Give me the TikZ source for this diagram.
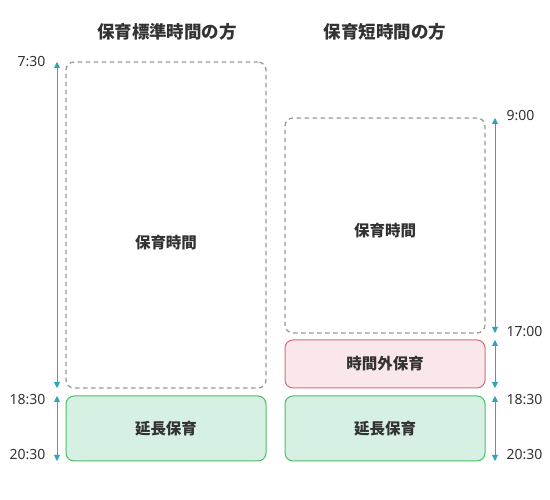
\documentclass[tikz,border=0pt]{standalone}
\usepackage{fontspec}
\usepackage{tikz}
\usepackage{xcolor}
\usetikzlibrary{arrows.meta, calc}
\newfontfamily\jpfont{Noto Sans CJK JP}
\newfontfamily\numfont{Noto Sans}
\definecolor{cTeal}     {HTML}{2CA6B8}
\definecolor{cGreenLine}{HTML}{4DBB63}
\definecolor{cGreenFill}{HTML}{D6F0E4}
\definecolor{cPinkLine} {HTML}{D66B7E}
\definecolor{cPinkFill} {HTML}{FAE7EA}
\definecolor{cDash}     {HTML}{9A9A9A}
\definecolor{cText}     {HTML}{333333}

\begin{document}
\begin{tikzpicture}[x=1pt, y=-1pt, every node/.style={text=cText},
    hourbox/.style={rounded corners=8pt, outer sep=0pt, line width=1pt,
      minimum width=200pt},
    dashbox/.style={hourbox, draw=cDash, line width=1.3pt,
      dash pattern=on 4.5pt off 3.5pt},
    span/.style={{Triangle[width=6pt,length=6pt]}-{Triangle[width=6pt,length=6pt]},
      draw=cTeal, line width=1pt},
    boxlbl/.style={font=\jpfont\bfseries\fontsize{15.5}{16}\selectfont},
    timelbl/.style={font=\numfont\fontsize{14}{15}\selectfont}]
  \useasboundingbox (0,0) rectangle (550,500);

  % titles
  \node[font=\jpfont\bfseries\fontsize{17.5}{18}\selectfont] (ttlA) at (167, 32) {保育標準時間の方};
  \node[font=\jpfont\bfseries\fontsize{17.5}{18}\selectfont] (ttlB) at (385, 32) {保育短時間の方};

  % standard hours
  \node[dashbox, minimum height=326pt] (stdA) at (166, 225) {};
  \node[boxlbl] at ([yshift=-18pt]stdA.center) {保育時間};
  \node[hourbox, boxlbl, draw=cGreenLine, fill=cGreenFill, minimum height=65pt] (extA) at (166, 428.5) {延長保育};
  \draw[span] ([xshift=-9pt]stdA.north west) -- ([xshift=-9pt]stdA.south west);
  \draw[span] ([xshift=-9pt]extA.north west) -- ([xshift=-9pt]extA.south west);
  \node[timelbl, anchor=east] at ([xshift=-17pt]stdA.north west) {7:30};
  \node[timelbl, anchor=east] at ([xshift=-17pt, yshift=-4pt]extA.north west) {18:30};
  \node[timelbl, anchor=east] at ([xshift=-17pt, yshift=6pt]extA.south west) {20:30};

  % short hours
  \node[dashbox, minimum height=215pt] (stdB) at (385, 225.5) {};
  \node[boxlbl] at ([yshift=-5pt]stdB.center) {保育時間};
  \node[hourbox, boxlbl, draw=cPinkLine, fill=cPinkFill, minimum height=48pt] (ovtB) at (385, 364) {時間外保育};
  \node[hourbox, boxlbl, draw=cGreenLine, fill=cGreenFill, minimum height=65pt] (extB) at (385, 428.5) {延長保育};
  \draw[span] ([xshift=10pt]stdB.north east) -- ([xshift=10pt]stdB.south east);
  \draw[span] ([xshift=10pt]ovtB.north east) -- ([xshift=10pt]ovtB.south east);
  \draw[span] ([xshift=10pt]extB.north east) -- ([xshift=10pt]extB.south east);
  \node[timelbl, anchor=west] at ([xshift=18pt, yshift=2pt]stdB.north east) {9:00};
  \node[timelbl, anchor=west] at ([xshift=18pt, yshift=1pt]stdB.south east) {17:00};
  \node[timelbl, anchor=west] at ([xshift=18pt, yshift=-4pt]extB.north east) {18:30};
  \node[timelbl, anchor=west] at ([xshift=18pt, yshift=6pt]extB.south east) {20:30};
\end{tikzpicture}
\end{document}
